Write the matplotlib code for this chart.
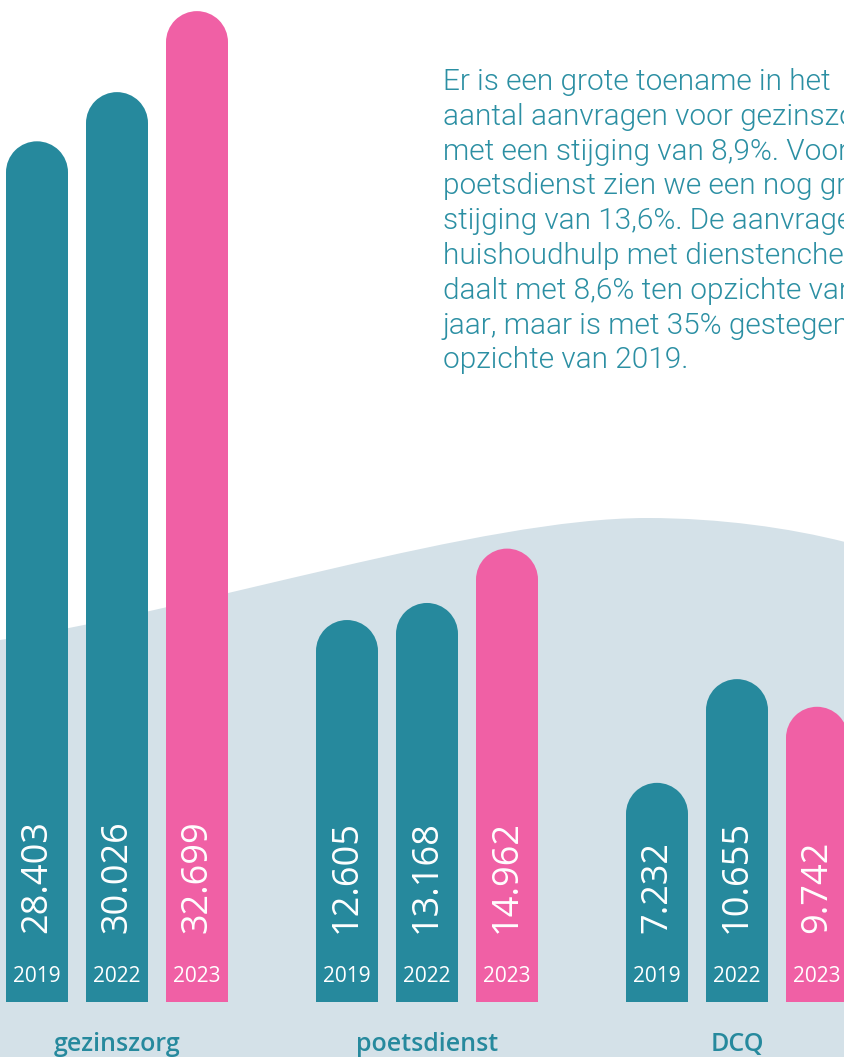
import matplotlib.pyplot as plt
from matplotlib.patches import Ellipse, PathPatch
from matplotlib.path import Path

categories = ["gezinszorg", "poetsdienst", "DCQ"]
years = ["2019", "2022", "2023"]
values = {
    "gezinszorg": [28403, 30026, 32699],
    "poetsdienst": [12605, 13168, 14962],
    "DCQ": [7232, 10655, 9742],
}
value_labels = {
    "gezinszorg": ["28.403", "30.026", "32.699"],
    "poetsdienst": ["12.605", "13.168", "14.962"],
    "DCQ": ["7.232", "10.655", "9.742"],
}
paragraph = [
    "Er is een grote toename in het",
    "aantal aanvragen voor gezinszorg,",
    "met een stijging van 8,9%. Voor",
    "poetsdienst zien we een nog grotere",
    "stijging van 13,6%. De aanvragen",
    "huishoudhulp met dienstencheques",
    "daalt met 8,6% ten opzichte van vorig",
    "jaar, maar is met 35% gestegen ten",
    "opzichte van 2019.",
]

teal = "#26899d"
pink = "#f060a5"
wave_col = "#d4e1e8"
bar_colors = [teal, teal, pink]

fig = plt.figure(figsize=(8.45, 10.57), dpi=100)

# background wave, drawn in pixel space
bg = fig.add_axes([0, 0, 1, 1], zorder=0)
bg.set_xlim(0, 845)
bg.set_ylim(1057, 0)
bg.axis("off")
verts = [(0, 640), (200, 610), (480, 518), (647, 518),
         (720, 518), (790, 528), (845, 542),
         (845, 1057), (0, 1057), (0, 640)]
codes = [Path.MOVETO, Path.CURVE4, Path.CURVE4, Path.CURVE4,
         Path.CURVE4, Path.CURVE4, Path.CURVE4,
         Path.LINETO, Path.LINETO, Path.CLOSEPOLY]
bg.add_patch(PathPatch(Path(verts, codes), facecolor=wave_col, edgecolor="none"))

# bars
ax = fig.add_axes([0, 0, 1, 1], zorder=1)
ax.patch.set_alpha(0)
ax.set_xlim(0, 10.5625)
ax.set_ylim(-1815, 33066)
ax.axis("off")

bar_w = 0.775
cap_h = 1023  # half-height of rounded top in data units
group_centers = [1.4625, 5.3375, 9.2125]

for gi, cat in enumerate(categories):
    for yi, yr in enumerate(years):
        x = group_centers[gi] + (yi - 1)
        v = values[cat][yi]
        ax.bar(x, v - cap_h, width=bar_w, color=bar_colors[yi], linewidth=0)
        ax.add_patch(Ellipse((x, v - cap_h), bar_w, 2 * cap_h,
                             facecolor=bar_colors[yi], edgecolor="none"))
        ax.text(x, 2280, value_labels[cat][yi], rotation=90, ha="center", va="bottom",
                color="white", fontsize=26, family="Open Sans")
        ax.text(x, 858, yr, ha="center", va="center", color="white",
                fontsize=15, family="Open Sans")
    ax.text(group_centers[gi], -1400, cat, ha="center", va="center", color=teal,
            fontsize=18, fontweight=600, family="Open Sans")

# explanatory text
for i, line in enumerate(paragraph):
    fig.text(443 / 845, 1 - (82 + i * 34.8) / 1057, line, ha="left", va="center",
             color="#2b8fa3", fontsize=21.4, family="Roboto", fontweight=300)

plt.savefig("out.png", dpi=100)
